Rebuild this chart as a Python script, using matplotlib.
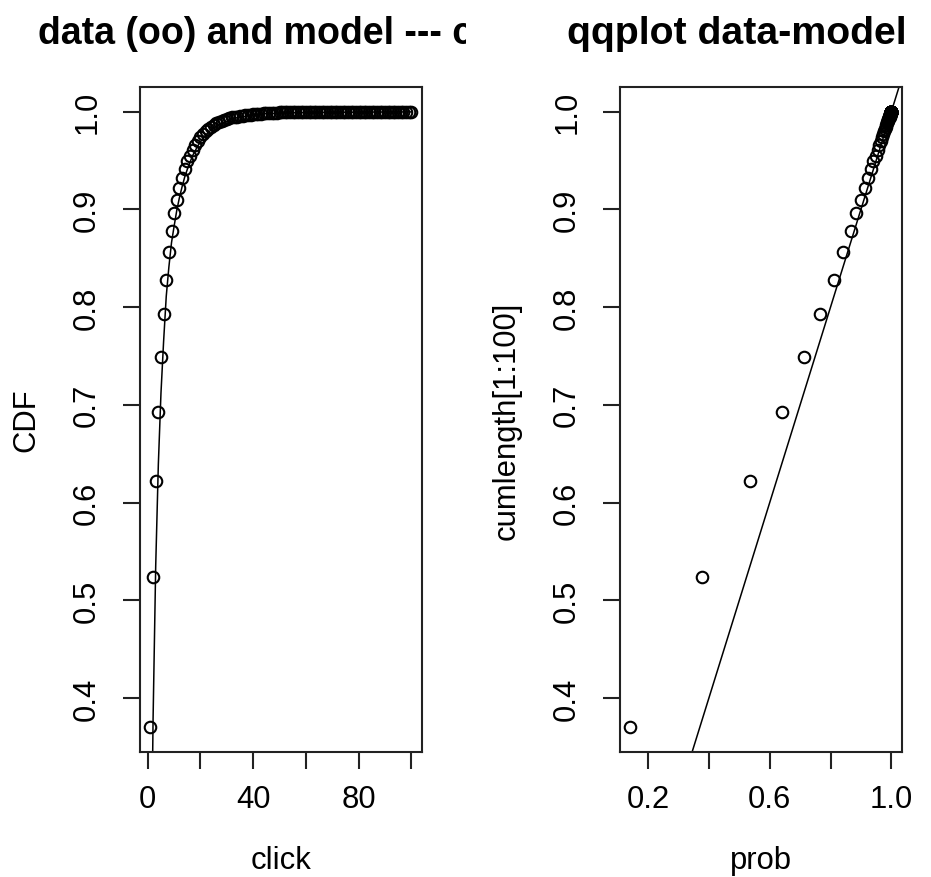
import matplotlib
matplotlib.use("Agg")
import matplotlib.pyplot as plt
from matplotlib.transforms import Bbox, TransformedBbox
import numpy as np

plt.rcParams['font.family'] = ['Liberation Sans', 'DejaVu Sans']

# ---- data -------------------------------------------------------------
click = list(range(1, 101))

cumlength = [
    0.370, 0.524, 0.622, 0.693, 0.749, 0.793, 0.828, 0.856, 0.878, 0.896,
    0.910, 0.922, 0.932, 0.941, 0.949, 0.955, 0.961, 0.966, 0.970, 0.974,
    0.977, 0.980, 0.982, 0.984, 0.986, 0.988, 0.989, 0.990, 0.991, 0.992,
    0.993, 0.994, 0.995, 0.995, 0.996, 0.996, 0.997, 0.997, 0.997, 0.998,
    0.998, 0.998, 0.998, 0.9985, 0.9987, 0.9988, 0.9989, 0.9990, 0.9991, 0.9992,
    0.9992, 0.9993, 0.9993, 0.9994, 0.9994, 0.9995, 0.9995, 0.9995, 0.9996, 0.9996,
    0.9996, 0.9996, 0.9997, 0.9997, 0.9997, 0.9997, 0.9997, 0.9998, 0.9998, 0.9998,
    0.9998, 0.9998, 0.9998, 0.9998, 0.9999, 0.9999, 0.9999, 0.9999, 0.9999, 0.9999,
    0.9999, 0.9999, 0.9999, 0.9999, 0.9999, 1.0000, 1.0000, 1.0000, 1.0000, 1.0000,
    1.0000, 1.0000, 1.0000, 1.0000, 1.0000, 1.0000, 1.0000, 1.0000, 1.0000, 1.0000,
]

prob = [
    0.142, 0.378, 0.535, 0.639, 0.712, 0.765, 0.811, 0.841, 0.866, 0.883,
    0.899, 0.912, 0.923, 0.933, 0.941, 0.948, 0.955, 0.960, 0.965, 0.969,
    0.973, 0.976, 0.979, 0.981, 0.983, 0.985, 0.987, 0.988, 0.989, 0.990,
    0.991, 0.992, 0.993, 0.994, 0.994, 0.995, 0.995, 0.996, 0.996, 0.997,
    0.997, 0.997, 0.997, 0.998, 0.998, 0.998, 0.998, 0.998, 0.998, 0.9985,
    0.9986, 0.9987, 0.9987, 0.9988, 0.9988, 0.9989, 0.9989, 0.9990, 0.9990, 0.9990,
    0.9991, 0.9991, 0.9991, 0.9992, 0.9992, 0.9992, 0.9992, 0.9993, 0.9993, 0.9993,
    0.9993, 0.9993, 0.9994, 0.9994, 0.9994, 0.9994, 0.9994, 0.9994, 0.9995, 0.9995,
    0.9995, 0.9995, 0.9995, 0.9995, 0.9995, 0.9996, 0.9996, 0.9996, 0.9996, 0.9996,
    0.9996, 0.9996, 0.9996, 0.9997, 0.9997, 0.9997, 0.9997, 0.9997, 0.9997, 0.9997,
]

left_title = "data (oo) and model --- cdf"
right_title = "qqplot data-model"
left_xticks = [0, 20, 40, 60, 80, 100]
left_xticklabels = ["0", "", "40", "", "80", ""]
right_xticks = [0.2, 0.4, 0.6, 0.8, 1.0]
right_xticklabels = ["0.2", "", "0.6", "", "1.0"]
yticks = [0.4, 0.5, 0.6, 0.7, 0.8, 0.9, 1.0]
yticklabels = ["0.4", "0.5", "0.6", "0.7", "0.8", "0.9", "1.0"]

# ---- figure -------------------------------------------------------------
W, H, DPI = 931, 878, 100
fig = plt.figure(figsize=(W / DPI, H / DPI), dpi=DPI)

FS = 22.3
TFS = 27.0


def rlim(v):
    lo, hi = min(v), max(v)
    r = hi - lo
    return lo - 0.04 * r, hi + 0.04 * r


def style(ax, xticks, xticklabels):
    for s in ax.spines.values():
        s.set_linewidth(1.5)
        s.set_color('#222222')
    ax.set_xticks(xticks)
    ax.set_xticklabels(xticklabels)
    ax.set_yticks(yticks)
    ax.set_yticklabels(yticklabels, rotation=90, va='center')
    ax.tick_params(axis='both', direction='out', length=12.2, width=1.5,
                   color='#222222', labelsize=FS)
    ax.tick_params(axis='x', pad=11)
    ax.tick_params(axis='y', pad=15)


marker_kw = dict(linestyle='none', marker='o', markersize=8.3,
                 markerfacecolor='none', markeredgecolor='black',
                 markeredgewidth=1.5)

# left panel
ax1 = fig.add_axes([140 / W, 1 - 753 / H, (421.7 - 140) / W, (753 - 88) / H])
ax1.plot(click, cumlength, **marker_kw)
ax1.plot(click, prob, color='black', linewidth=1.1)
ax1.set_xlim(*rlim(click))
ax1.set_ylim(*rlim(cumlength))
style(ax1, left_xticks, left_xticklabels)
ax1.set_xlabel("click", fontsize=FS, labelpad=22)
ax1.set_ylabel("CDF", fontsize=FS, labelpad=22)

# right panel
ax2 = fig.add_axes([620 / W, 1 - 753 / H, (901.7 - 620) / W, (753 - 88) / H])
ax2.plot(prob, cumlength, **marker_kw)
ax2.set_xlim(*rlim(prob))
ax2.set_ylim(*rlim(cumlength))
ax2.axline((0, 0), slope=1, color='black', linewidth=1.1)
style(ax2, right_xticks, right_xticklabels)
ax2.set_xlabel("prob", fontsize=FS, labelpad=22)
ax2.set_ylabel("cumlength[1:100]", fontsize=FS, labelpad=22)

# titles (each clipped to its own half of the figure, as R does)
t1 = fig.text(38 / W, 1 - 44 / H, left_title, fontsize=TFS, fontweight='bold',
              ha='left', va='baseline')
t1.set_clip_on(True)
t1.set_clip_box(TransformedBbox(Bbox([[0, 0], [0.5, 1]]), fig.transFigure))
t2 = fig.text(567 / W, 1 - 44 / H, right_title, fontsize=28.3, fontweight='bold',
              ha='left', va='baseline')
t2.set_clip_on(True)
t2.set_clip_box(TransformedBbox(Bbox([[0.5, 0], [1, 1]]), fig.transFigure))

fig.savefig("out.png", dpi=DPI, facecolor='white')
